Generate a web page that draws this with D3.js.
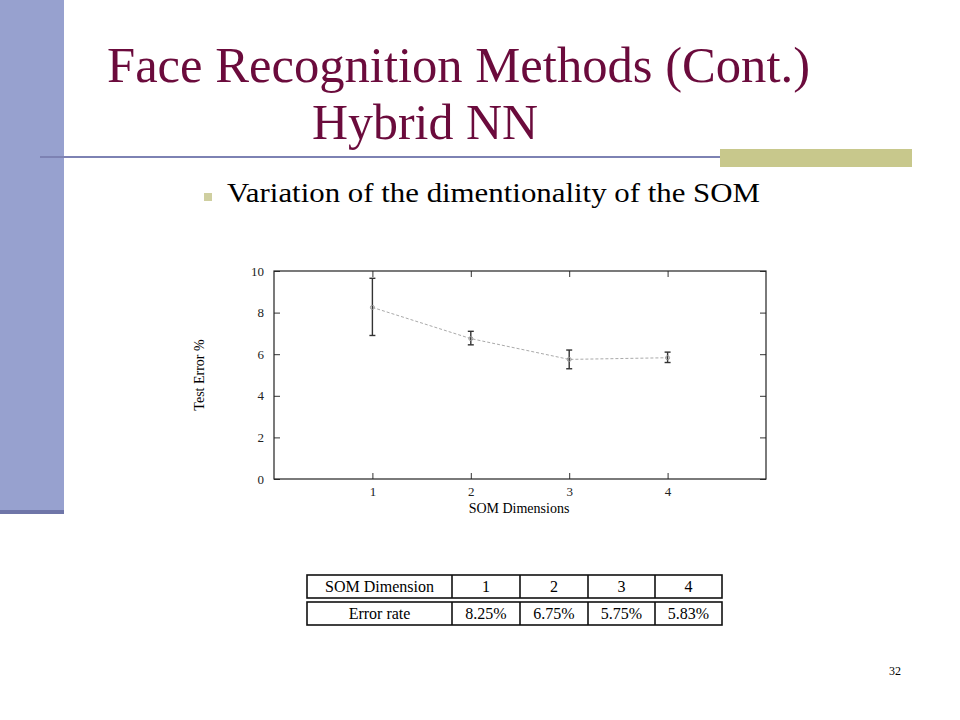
<!DOCTYPE html>
<html><head><meta charset="utf-8">
<script src="https://cdn.jsdelivr.net/npm/d3@7"></script>
<style>body{margin:0;background:#fff}</style>
</head><body><svg id="c" width="960" height="720"></svg>
<script>
const dims = [1, 2, 3, 4];
const errorMean = [8.25, 6.75, 5.75, 5.83];
const errorLow = [6.9, 6.45, 5.3, 5.6];
const errorHigh = [9.65, 7.1, 6.2, 6.1];
const yTicks = [0, 2, 4, 6, 8, 10];
const tableHeader = ["SOM Dimension", "1", "2", "3", "4"];
const tableRow = ["Error rate", "8.25%", "6.75%", "5.75%", "5.83%"];

const SERIF = "'Liberation Serif', 'Times New Roman', serif";
const svg = d3.select("#c");

// slide decoration
svg.append("rect").attr("x", 0).attr("y", 0).attr("width", 64).attr("height", 512).attr("fill", "#97a1cf");
svg.append("rect").attr("x", 0).attr("y", 510).attr("width", 64).attr("height", 4).attr("fill", "#6f76a8");
svg.append("line").attr("x1", 40).attr("x2", 912).attr("y1", 157).attr("y2", 157).attr("stroke", "#7d82b3").attr("stroke-width", 2);
svg.append("rect").attr("x", 720).attr("y", 149).attr("width", 192).attr("height", 18).attr("fill", "#c8c88c");

svg.append("text").attr("x", 107).attr("y", 82).attr("font-size", 50).attr("fill", "#6b0b3c")
  .attr("textLength", 703).attr("lengthAdjust", "spacingAndGlyphs").text("Face Recognition Methods (Cont.)");
svg.append("text").attr("x", 312).attr("y", 139).attr("font-size", 50).attr("fill", "#6b0b3c")
  .attr("textLength", 226).attr("lengthAdjust", "spacingAndGlyphs").text("Hybrid NN");
svg.append("rect").attr("x", 204).attr("y", 193).attr("width", 8).attr("height", 8).attr("fill", "#cfcfa0");
svg.append("text").attr("x", 227).attr("y", 202).attr("font-size", 27).attr("fill", "#000")
  .attr("textLength", 533).attr("lengthAdjust", "spacingAndGlyphs").text("Variation of the dimentionality of the SOM");
svg.append("text").attr("x", 901).attr("y", 675).attr("text-anchor", "end").attr("font-size", 12).text("32");

// chart
const L = 274, R = 766, T = 271, B = 479;
const x = d3.scaleLinear().domain([0, 5]).range([L, R]);
const y = d3.scaleLinear().domain([0, 10]).range([B, T]);
const g = svg.append("g");

g.append("g").attr("transform", `translate(0,${B})`)
  .call(d3.axisBottom(x).tickValues(dims).tickSize(-6).tickPadding(8).tickFormat(d3.format("d")))
  .call(a => a.select(".domain").remove());
g.append("g").attr("transform", `translate(0,${T})`)
  .call(d3.axisTop(x).tickValues(dims).tickSize(-6).tickFormat(""))
  .call(a => a.select(".domain").remove());
g.append("g").attr("transform", `translate(${L},0)`)
  .call(d3.axisLeft(y).tickValues(yTicks).tickSize(-6).tickPadding(10))
  .call(a => a.select(".domain").remove());
g.append("g").attr("transform", `translate(${R},0)`)
  .call(d3.axisRight(y).tickValues(yTicks).tickSize(-6).tickFormat(""))
  .call(a => a.select(".domain").remove());
g.selectAll(".tick text").attr("font-size", 13).attr("fill", "#222");
g.selectAll(".tick line").attr("stroke", "#333");
g.append("rect").attr("x", L).attr("y", T).attr("width", R - L).attr("height", B - T).attr("fill", "none").attr("stroke", "#222").attr("stroke-width", 1.2);

const pts = dims.map((d, i) => ({d, m: errorMean[i], lo: errorLow[i], hi: errorHigh[i]}));
g.append("path").datum(pts).attr("fill", "none").attr("stroke", "#aaa").attr("stroke-dasharray", "3,2")
  .attr("d", d3.line().x(p => x(p.d)).y(p => y(p.m)));
const eb = g.selectAll(".eb").data(pts).enter().append("g").attr("stroke", "#333").attr("stroke-width", 1.4);
eb.append("line").attr("x1", p => x(p.d)).attr("x2", p => x(p.d)).attr("y1", p => y(p.lo)).attr("y2", p => y(p.hi));
eb.append("line").attr("x1", p => x(p.d) - 3).attr("x2", p => x(p.d) + 3).attr("y1", p => y(p.lo)).attr("y2", p => y(p.lo));
eb.append("line").attr("x1", p => x(p.d) - 3).attr("x2", p => x(p.d) + 3).attr("y1", p => y(p.hi)).attr("y2", p => y(p.hi));
g.selectAll(".pt").data(pts).enter().append("circle").attr("cx", p => x(p.d)).attr("cy", p => y(p.m)).attr("r", 2).attr("fill", "none").attr("stroke", "#999");

g.append("text").attr("x", 519).attr("y", 513).attr("text-anchor", "middle").attr("font-size", 14).text("SOM Dimensions");
g.append("text").attr("transform", "translate(204,375) rotate(-90)").attr("text-anchor", "middle").attr("font-size", 14).text("Test Error %");

// table
const cols = [307, 452, 520, 588, 655, 722];
const tbl = svg.append("g");
[[575, 598, tableHeader], [602, 625, tableRow]].forEach(([y0, y1, cells]) => {
  tbl.append("rect").attr("x", cols[0]).attr("y", y0).attr("width", cols[5] - cols[0]).attr("height", y1 - y0).attr("fill", "none").attr("stroke", "#111").attr("stroke-width", 1.6);
  cells.forEach((c, i) => {
    if (i > 0) tbl.append("line").attr("x1", cols[i]).attr("x2", cols[i]).attr("y1", y0).attr("y2", y1).attr("stroke", "#111").attr("stroke-width", 1.6);
    tbl.append("text").attr("x", (cols[i] + cols[i + 1]) / 2).attr("y", y1 - 6).attr("text-anchor", "middle").attr("font-size", 16).text(c);
  });
});

svg.selectAll("text").attr("font-family", SERIF);
</script></body></html>
